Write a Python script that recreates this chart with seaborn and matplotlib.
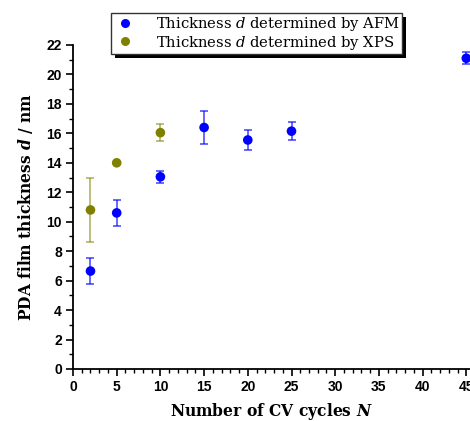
import matplotlib
matplotlib.use("Agg")
import matplotlib.pyplot as plt
from matplotlib.patches import Rectangle
from matplotlib.ticker import MultipleLocator
import seaborn as sns
import pandas as pd

# Film thickness vs. number of CV cycles
afm_cycles = [2, 5, 10, 15, 20, 25, 45]
afm_thickness = [6.65, 10.6, 13.05, 16.4, 15.55, 16.15, 21.1]
afm_error = [0.9, 0.9, 0.4, 1.1, 0.7, 0.6, 0.4]

xps_cycles = [2, 5, 10]
xps_thickness = [10.8, 14.0, 16.05]
xps_error = [2.2, 0.0, 0.6]

afm_label = "Thickness $d$ determined by AFM"
xps_label = "Thickness $d$ determined by XPS"

x_ticks = [0, 5, 10, 15, 20, 25, 30, 35, 40, 45]
y_ticks = [0, 2, 4, 6, 8, 10, 12, 14, 16, 18, 20, 22]

blue = "#0000ff"
olive = "#808000"

sns.set_theme(style="ticks")
plt.rcParams["mathtext.fontset"] = "dejavuserif"
plt.rcParams["font.family"] = ["DejaVu Serif"]
plt.rcParams["text.color"] = "black"
plt.rcParams["axes.labelcolor"] = "black"
plt.rcParams["xtick.color"] = "black"
plt.rcParams["ytick.color"] = "black"

df = pd.DataFrame({
    "cycles": afm_cycles + xps_cycles,
    "thickness": afm_thickness + xps_thickness,
    "method": [afm_label] * len(afm_cycles) + [xps_label] * len(xps_cycles),
})

fig = plt.figure(figsize=(4.70, 4.21), dpi=100)
ax = fig.add_axes([73 / 470, 52 / 421, 1 - 73 / 470, (369 - 45) / 421])

# error bars first, points on top
ax.errorbar(afm_cycles, afm_thickness, yerr=afm_error, fmt="none",
            ecolor=blue, alpha=0.75, elinewidth=1.1, capsize=3, capthick=1.1,
            clip_on=False, zorder=2)
ax.errorbar(xps_cycles, xps_thickness, yerr=xps_error, fmt="none",
            ecolor=olive, alpha=0.65, elinewidth=1.1, capsize=3, capthick=1.1,
            clip_on=False, zorder=2)

sns.scatterplot(data=df, x="cycles", y="thickness", hue="method",
                palette={afm_label: blue, xps_label: olive},
                s=48, edgecolor="none", linewidth=0, ax=ax, legend=False,
                clip_on=False, zorder=3)

ax.set_xlim(0, (470 - 73) / 8.74)
ax.set_ylim(0, 22)
ax.set_xticks(x_ticks)
ax.set_yticks(y_ticks)
ax.xaxis.set_minor_locator(MultipleLocator(1))
ax.yaxis.set_minor_locator(MultipleLocator(1))

for side in ("top", "right"):
    ax.spines[side].set_visible(False)
for side in ("left", "bottom"):
    ax.spines[side].set_linewidth(1.3)
    ax.spines[side].set_color("black")

ax.tick_params(which="major", direction="out", length=5, width=1.2,
               color="black", labelcolor="black", pad=3)
ax.tick_params(which="minor", direction="out", length=3, width=1.0,
               color="black")
for lab in ax.get_xticklabels() + ax.get_yticklabels():
    lab.set_fontfamily("Liberation Sans")
    lab.set_fontweight("bold")
    lab.set_fontsize(10)

ax.set_xlabel(r"Number of CV cycles $\mathbfit{N}$", fontsize=11.2,
              fontweight="bold", labelpad=5, color="black")
ax.set_ylabel(r"PDA film thickness $\mathbfit{d}$ / nm", fontsize=11.2,
              fontweight="bold", labelpad=8, color="black")

# legend with a solid offset shadow
handles = [
    plt.Line2D([], [], marker="o", linestyle="none", color=blue,
               markersize=6.5, markeredgewidth=0),
    plt.Line2D([], [], marker="o", linestyle="none", color=olive,
               markersize=6.5, markeredgewidth=0),
]
leg = fig.legend(handles, [afm_label, xps_label], loc="upper left",
                 bbox_to_anchor=(111 / 470, 1 - 13 / 421),
                 frameon=True, fancybox=False, shadow=False,
                 prop={"family": "DejaVu Serif", "size": 10.6},
                 handletextpad=1.3, borderpad=0.15, labelspacing=0.02,
                 handlelength=1.6, borderaxespad=0, labelcolor="black")
frame = leg.get_frame()
frame.set_facecolor("white")
frame.set_alpha(1)
frame.set_edgecolor("#333333")
frame.set_linewidth(1.0)
leg.set_zorder(10)

fig.canvas.draw()
bb = leg.get_window_extent()
shadow = Rectangle((bb.x0 + 4, bb.y0 - 4), bb.width, bb.height,
                   transform=None, facecolor="black", edgecolor="none",
                   zorder=9)
fig.add_artist(shadow)

fig.savefig("out.png", dpi=100)
